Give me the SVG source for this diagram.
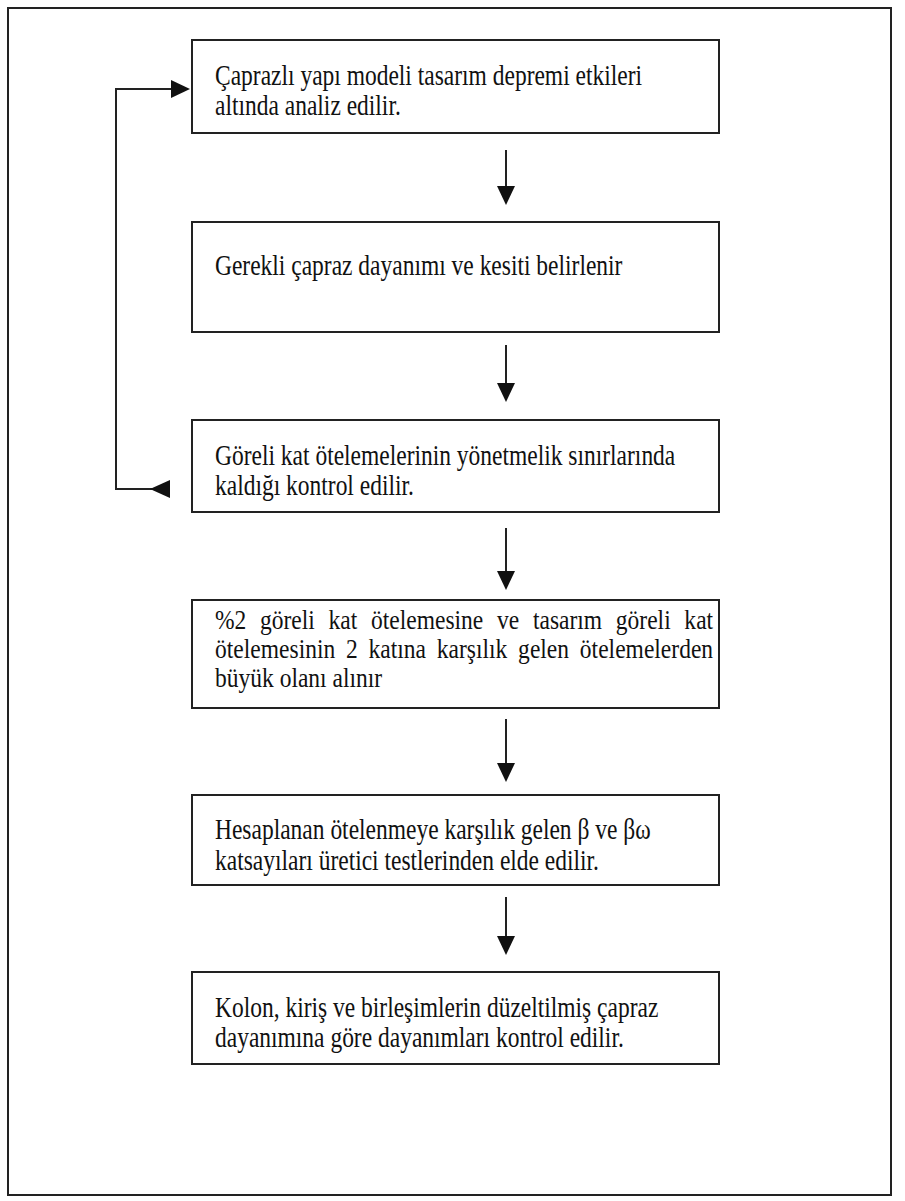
<svg xmlns="http://www.w3.org/2000/svg" width="905" height="1201" viewBox="0 0 905 1201">
<style>
.frame{fill:#fff;stroke:#222;stroke-width:2}
.box{fill:#fff;stroke:#222;stroke-width:2}
.t{font-family:"Liberation Serif","Times New Roman",serif;font-size:29px;fill:#111}
.t4{font-family:"Liberation Serif","Times New Roman",serif;font-size:28px;fill:#111}
.c{fill:none;stroke:#222;stroke-width:2}
.h{fill:#111}
</style>
<rect class="frame" x="8" y="8" width="883" height="1187"/>
<g id="connectors">
<g id="a1"><line class="c" x1="506" y1="150" x2="506" y2="188"/><path class="h" d="M497,186 L515,186 L506,205 Z"/></g>
<g id="a2"><line class="c" x1="506" y1="345" x2="506" y2="385"/><path class="h" d="M497,383 L515,383 L506,402 Z"/></g>
<g id="a3"><line class="c" x1="506" y1="528" x2="506" y2="573"/><path class="h" d="M497,571 L515,571 L506,590 Z"/></g>
<g id="a4"><line class="c" x1="506" y1="719" x2="506" y2="765"/><path class="h" d="M497,763 L515,763 L506,782 Z"/></g>
<g id="a5"><line class="c" x1="506" y1="897" x2="506" y2="938"/><path class="h" d="M497,936 L515,936 L506,955 Z"/></g>
<g id="feedback"><polyline class="c" points="152,489 116,489 116,89 173,89"/><path class="h" d="M170,480 L170,498 L150,489 Z"/><path class="h" d="M171,80 L190,89 L171,98 Z"/></g>
</g>
<g id="n1"><rect class="box" x="192" y="40" width="527" height="93"/>
<text class="t" transform="translate(215,85) scale(0.81,1)">Çaprazlı yapı modeli tasarım depremi etkileri</text>
<text class="t" transform="translate(215,115) scale(0.81,1)">altında analiz edilir.</text></g>
<g id="n2"><rect class="box" x="192" y="222" width="527" height="110"/>
<text class="t" transform="translate(215,275) scale(0.81,1)">Gerekli çapraz dayanımı ve kesiti belirlenir</text></g>
<g id="n3"><rect class="box" x="192" y="420" width="527" height="92"/>
<text class="t" transform="translate(215,465) scale(0.81,1)">Göreli kat ötelemelerinin yönetmelik sınırlarında</text>
<text class="t" transform="translate(215,495) scale(0.81,1)">kaldığı kontrol edilir.</text></g>
<g id="n4"><rect class="box" x="192" y="600" width="527" height="108"/>
<text class="t4" transform="translate(215,629) scale(0.84,1)" textLength="593" lengthAdjust="spacing" style="word-spacing:9.3px">%2 göreli kat ötelemesine ve tasarım göreli kat</text>
<text class="t4" transform="translate(215,658) scale(0.84,1)" textLength="593" lengthAdjust="spacing" style="word-spacing:5.8px">ötelemesinin 2 katına karşılık gelen ötelemelerden</text>
<text class="t4" transform="translate(215,687) scale(0.84,1)">büyük olanı alınır</text></g>
<g id="n5"><rect class="box" x="192" y="795" width="527" height="90"/>
<text class="t" transform="translate(215,839) scale(0.81,1)">Hesaplanan ötelenmeye karşılık gelen β ve βω</text>
<text class="t" transform="translate(215,870) scale(0.81,1)">katsayıları üretici testlerinden elde edilir.</text></g>
<g id="n6"><rect class="box" x="192" y="972" width="527" height="92"/>
<text class="t" transform="translate(215,1017) scale(0.81,1)">Kolon, kiriş ve birleşimlerin düzeltilmiş çapraz</text>
<text class="t" transform="translate(215,1047) scale(0.81,1)">dayanımına göre dayanımları kontrol edilir.</text></g>
</svg>
